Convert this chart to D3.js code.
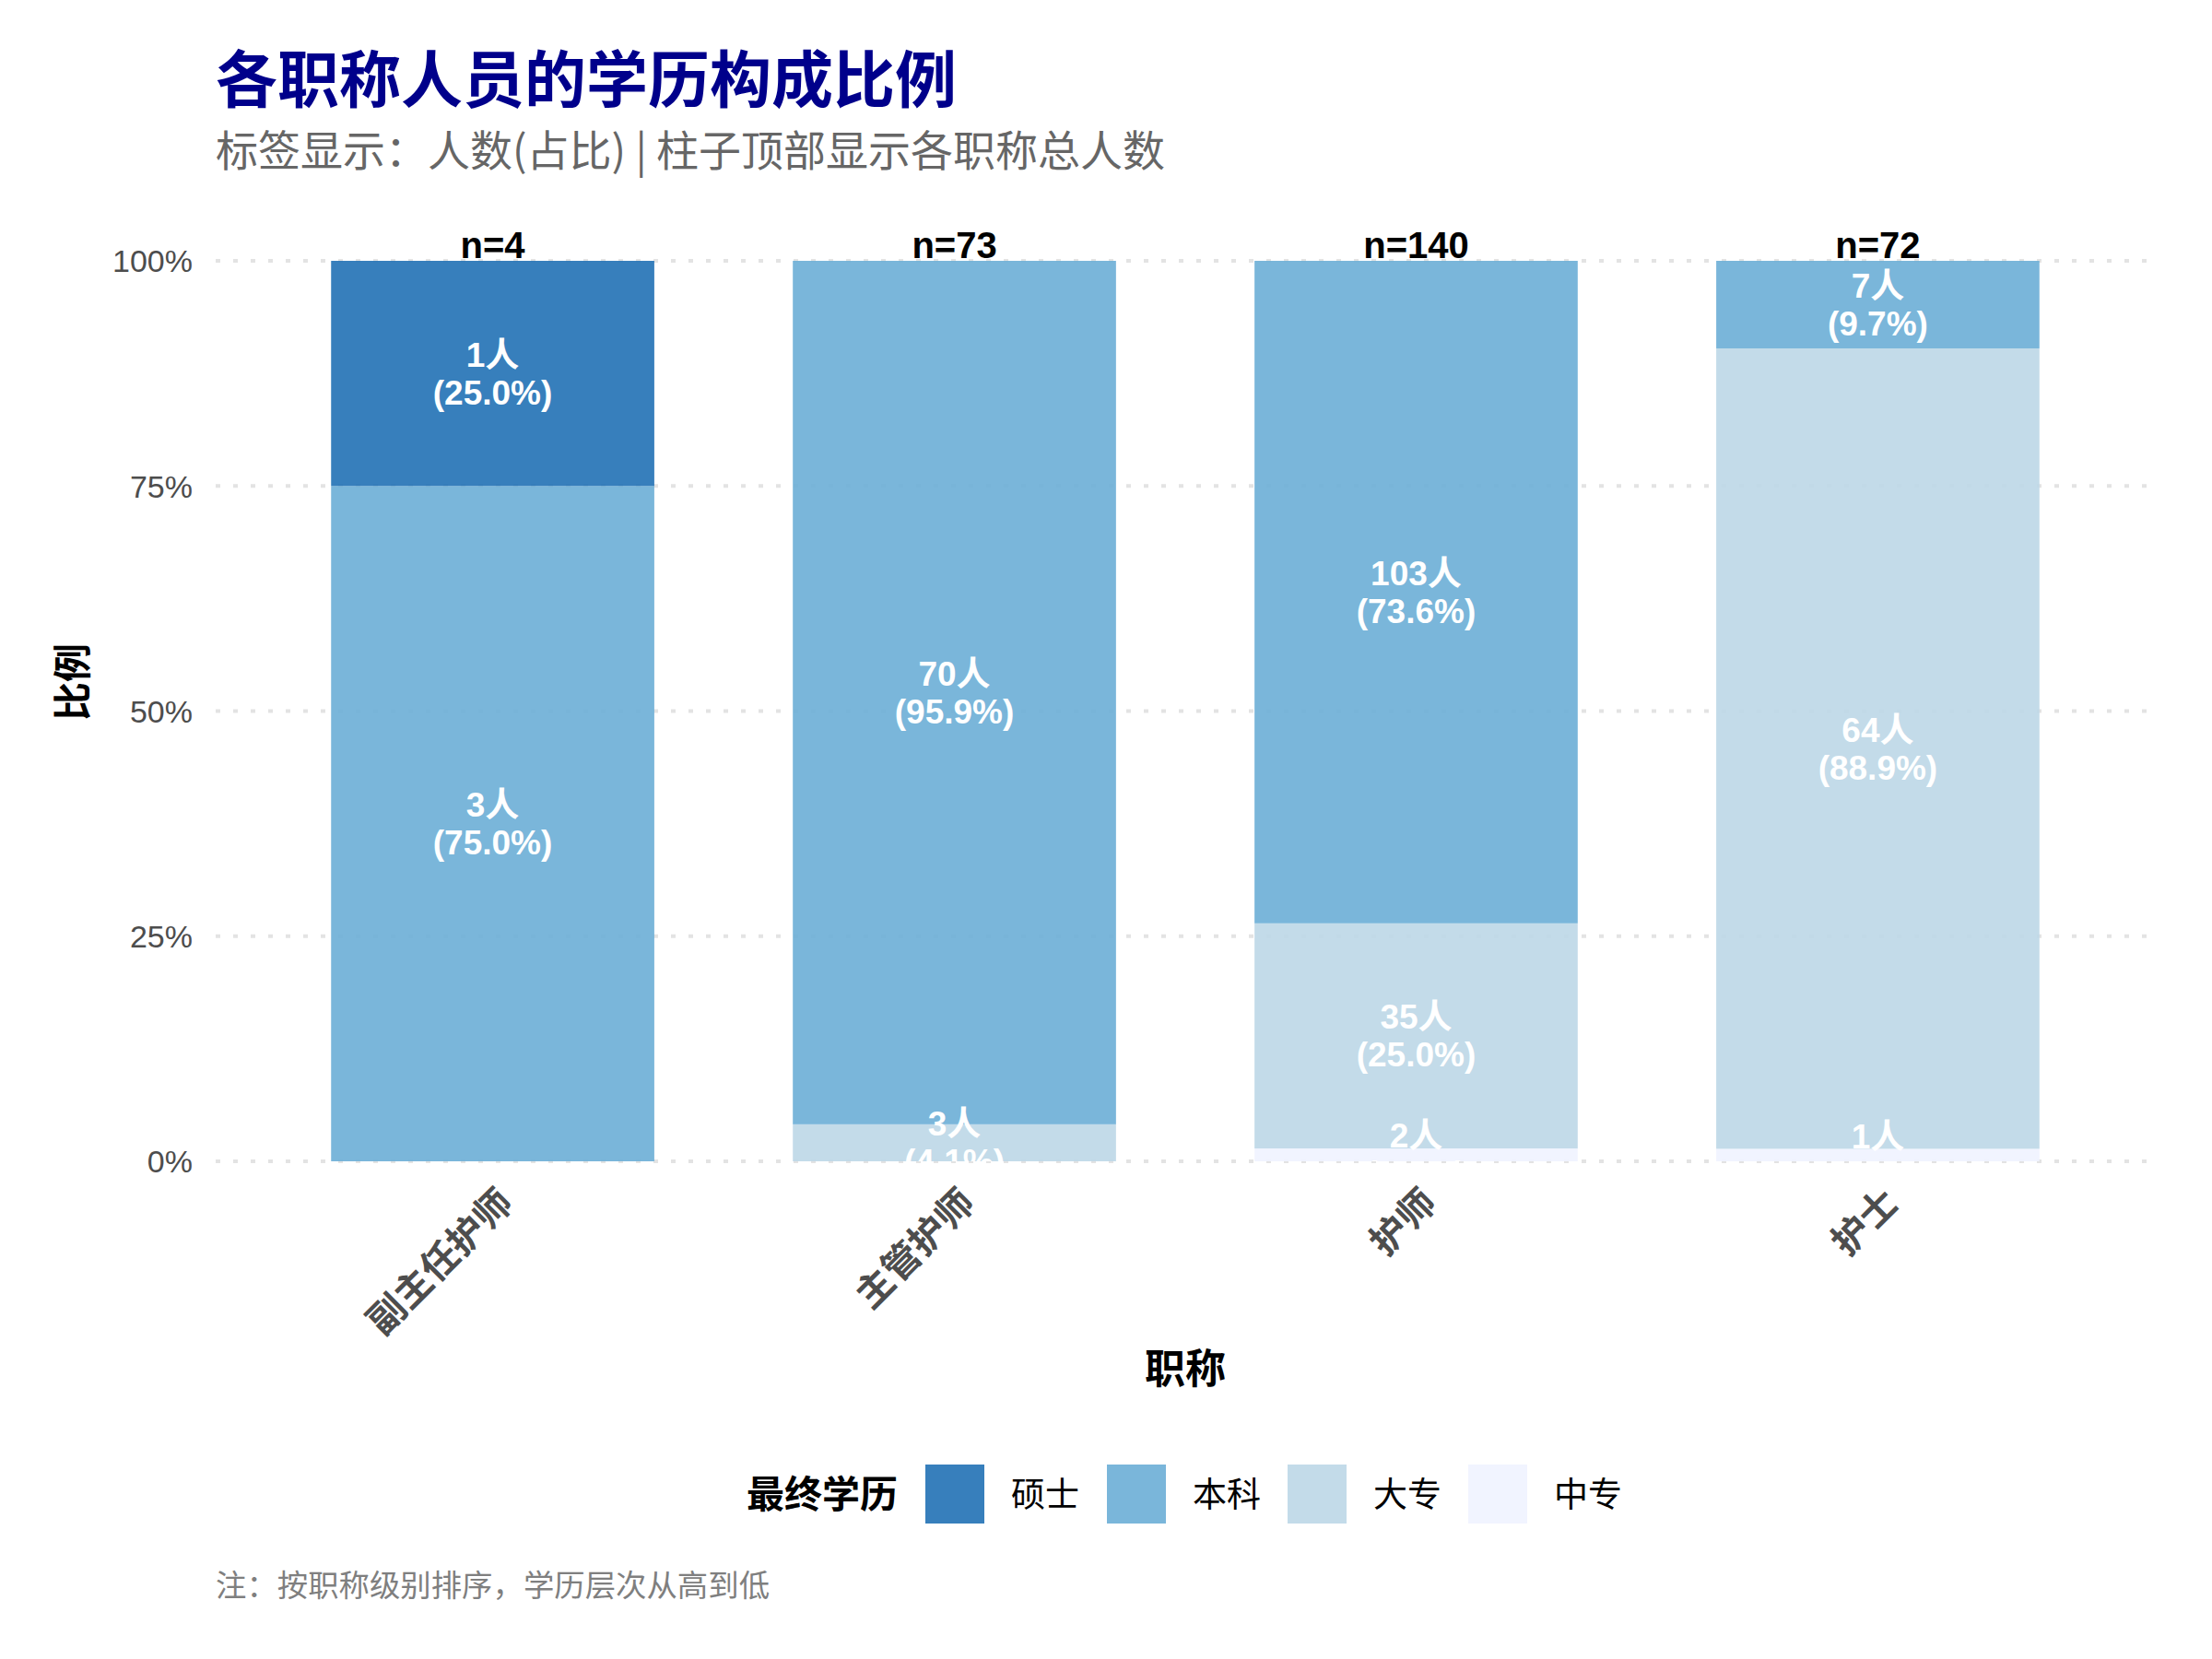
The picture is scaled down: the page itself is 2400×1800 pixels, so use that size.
<!DOCTYPE html>
<html>
<head>
<meta charset="utf-8">
<script src="https://cdn.jsdelivr.net/npm/d3@7"></script>
<style>
  html, body { margin: 0; padding: 0; background: #fff; }
  svg { display: block; }
  text { font-family: "Liberation Sans", Arial, "Noto Sans CJK SC", sans-serif; }
</style>
</head>
<body>
<svg id="chart" width="2400" height="1800"></svg>
<script>
// ---- data ----
const categories = ["副主任护师", "主管护师", "护师", "护士"];
const levels = ["硕士", "本科", "大专", "中专"];          // high -> low (legend order)
const countsMaster   = [1, 0, 0, 0];   // 硕士
const countsBachelor = [3, 70, 103, 7]; // 本科
const countsCollege  = [0, 3, 35, 64];  // 大专
const countsSecondary= [0, 0, 2, 1];    // 中专
const levelColors = ["#2171B5", "#6BAED6", "#BDD7E7", "#EFF3FF"];
const yTicks = [0, 0.25, 0.5, 0.75, 1];
const yTickLabels = ["0%", "25%", "50%", "75%", "100%"];

const titleText = "各职称人员的学历构成比例";
const subtitleText = "标签显示：人数(占比) | 柱子顶部显示各职称总人数";
const noteText = "注：按职称级别排序，学历层次从高到低";

// ---- build table ----
const countsByLevel = {"硕士": countsMaster, "本科": countsBachelor, "大专": countsCollege, "中专": countsSecondary};
const totals = categories.map((c, i) => levels.reduce((s, l) => s + countsByLevel[l][i], 0));
const rows = categories.map((c, i) => {
  const r = {cat: c, total: totals[i]};
  levels.forEach(l => { r[l] = countsByLevel[l][i] / totals[i]; r[l + "_n"] = countsByLevel[l][i]; });
  return r;
});
const stackKeys = levels.slice().reverse(); // bottom: 中专 ... top: 硕士
const series = d3.stack().keys(stackKeys)(rows);
const color = d3.scaleOrdinal().domain(levels).range(levelColors);

const svg = d3.select("#chart");
const CJK = '"Noto Sans CJK SC", sans-serif';

// ---- scales ----
const x = d3.scaleBand().domain(categories).range([234, 2338]).paddingInner(0.3).paddingOuter(0.25);
const y = d3.scaleLinear().domain([0, 1]).range([1260, 283]);
const panelTop = y(1.05);

// ---- title ----
svg.append("text").attr("x", 234).attr("y", 111)
  .attr("font-size", 67).attr("font-weight", "bold").attr("fill", "#00008B")
  .style("font-family", CJK).text(titleText);
svg.append("text").attr("x", 234).attr("y", 180)
  .attr("font-size", 46).attr("fill", "#666666")
  .style("font-family", CJK).text(subtitleText);

// ---- grid ----
svg.append("g").selectAll("line").data(yTicks).join("line")
  .attr("x1", 234).attr("x2", 2338)
  .attr("y1", d => y(d)).attr("y2", d => y(d))
  .attr("stroke", "#E3E3E3").attr("stroke-width", 4)
  .attr("stroke-dasharray", "5,14");

// ---- y axis labels ----
const yAxis = d3.axisLeft(y).tickValues(yTicks).tickFormat((d, i) => yTickLabels[i]).tickSize(0).tickPadding(0);
const yg = svg.append("g").attr("transform", "translate(209,0)").call(yAxis);
yg.select(".domain").remove();
yg.selectAll("text").attr("font-size", 34).attr("fill", "#4D4D4D")
  .attr("font-family", '"Liberation Sans", Arial, sans-serif').attr("dy", "0.35em");

// ---- clip ----
svg.append("clipPath").attr("id", "panel")
  .append("rect").attr("x", 234).attr("y", panelTop).attr("width", 2338 - 234).attr("height", 1260 - panelTop);
const panel = svg.append("g").attr("clip-path", "url(#panel)");

// ---- bars ----
panel.append("g").selectAll("g").data(series).join("g")
  .attr("fill", d => color(d.key)).attr("fill-opacity", 0.9)
  .selectAll("rect").data(d => d).join("rect")
  .attr("x", d => x(d.data.cat))
  .attr("width", x.bandwidth())
  .attr("y", d => y(d[1]))
  .attr("height", d => y(d[0]) - y(d[1]));

// ---- segment labels ----
const labelData = [];
series.forEach(s => s.forEach(d => {
  const n = d.data[s.key + "_n"];
  if (n > 0) labelData.push({cat: d.data.cat, mid: (d[0] + d[1]) / 2, n: n, p: d.data[s.key]});
}));
const lg = panel.append("g");
labelData.forEach(d => {
  const cx = x(d.cat) + x.bandwidth() / 2;
  const cy = y(d.mid);
  lg.append("text").attr("x", cx).attr("y", cy - 20.5).attr("dy", "0.35em")
    .attr("text-anchor", "middle").attr("font-size", 37).attr("font-weight", "bold").attr("fill", "#fff")
    .text(d.n + "人");
  lg.append("text").attr("x", cx).attr("y", cy + 20.5).attr("dy", "0.35em")
    .attr("text-anchor", "middle").attr("font-size", 37).attr("font-weight", "bold").attr("fill", "#fff")
    .text("(" + (d.p * 100).toFixed(1) + "%)");
});

// ---- totals ----
panel.append("g").selectAll("text").data(rows).join("text")
  .attr("x", d => x(d.cat) + x.bandwidth() / 2).attr("y", 280)
  .attr("text-anchor", "middle").attr("font-size", 40).attr("font-weight", "bold").attr("fill", "#000")
  .text(d => "n=" + d.total);

// ---- x axis labels ----
const xAxis = d3.axisBottom(x).tickSize(0).tickPadding(0);
const xg = svg.append("g").attr("transform", "translate(0,1283)").call(xAxis);
xg.select(".domain").remove();
xg.selectAll(".tick text")
  .attr("y", 0).attr("dy", "0.85em")
  .attr("text-anchor", "end").attr("transform", "rotate(-45)")
  .attr("font-size", 40.5).attr("font-weight", "bold").attr("fill", "#4D4D4D")
  .style("font-family", CJK);

// ---- axis titles ----
svg.append("text").attr("x", 1286).attr("y", 1501).attr("text-anchor", "middle")
  .attr("font-size", 44).attr("font-weight", "bold").attr("fill", "#000")
  .style("font-family", CJK).text("职称");
svg.append("text").attr("transform", "translate(94,740) rotate(-90)").attr("text-anchor", "middle")
  .attr("font-size", 42).attr("font-weight", "bold").attr("fill", "#000")
  .style("font-family", CJK).text("比例");

// ---- legend ----
const legend = svg.append("g");
legend.append("text").attr("x", 810).attr("y", 1636)
  .attr("font-size", 41).attr("font-weight", "bold").attr("fill", "#000")
  .style("font-family", CJK).text("最终学历");
const keyX = [1004, 1201, 1397, 1593];
levels.forEach((l, i) => {
  legend.append("rect").attr("x", keyX[i]).attr("y", 1589).attr("width", 64).attr("height", 64)
    .attr("fill", color(l)).attr("fill-opacity", 0.9);
  legend.append("text").attr("x", keyX[i] + 93).attr("y", 1635)
    .attr("font-size", 37).attr("fill", "#000").style("font-family", CJK).text(l);
});

// ---- note ----
svg.append("text").attr("x", 234).attr("y", 1732)
  .attr("font-size", 33.4).attr("fill", "#7F7F7F").style("font-family", CJK).text(noteText);
</script>
</body>
</html>
